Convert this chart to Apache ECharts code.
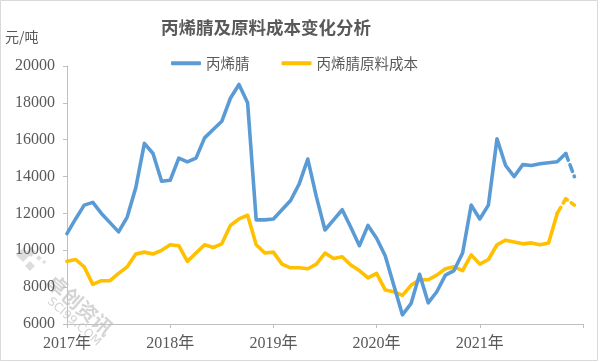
<!DOCTYPE html>
<html>
<head>
<meta charset="utf-8">
<script src="https://cdn.jsdelivr.net/npm/echarts@6/dist/echarts.min.js"></script>
<style>html,body{margin:0;padding:0;background:#fff;}#c{width:601px;height:362px;}</style>
</head>
<body>
<div id="c"></div>
<script>
// monthly categories Jan 2017 .. Jan 2022 (last is the closing tick)
var years = [2017, 2018, 2019, 2020, 2021];
var months = [];
years.forEach(function (y) { for (var m = 1; m <= 12; m++) months.push(y + '-' + (m < 10 ? '0' + m : m)); });
months.push('2022-01');

var acrylonitrile = [
  10900, 11700, 12450, 12600, 12000, 11500, 11000, 11800, 13400, 15800, 15250, 13750,
  13800, 15000, 14800, 15000, 16100, 16550, 17000, 18250, 19000, 18000, 11650, 11650,
  11700, 12200, 12700, 13600, 14950, 12900, 11100, 11650, 12200, 11250, 10250, 11350,
  10650, 9700, 8100, 6500, 7100, 8700, 7150, 7750, 8650, 8900, 9850, 12450,
  11700, 12450, 16050, 14600, 14000, 14650, 14600, 14700, 14750, 14800, 15250, 14000
];
var rawCost = [
  9400, 9500, 9100, 8150, 8350, 8350, 8750, 9100, 9800, 9900, 9800, 10000,
  10300, 10250, 9400, 9850, 10300, 10150, 10350, 11350, 11700, 11900, 10300, 9850,
  9900, 9250, 9050, 9050, 9000, 9250, 9850, 9550, 9650, 9200, 8900, 8500,
  8750, 7850, 7750, 7550, 8100, 8400, 8400, 8650, 9000, 9100, 8900, 9750,
  9250, 9500, 10300, 10550, 10450, 10350, 10400, 10300, 10400, 12000, 12800, 12450
];
var yTicks = { min: 6000, max: 20000, interval: 2000 };
var names = ['丙烯腈', '丙烯腈原料成本'];
var blueSolidEnd = 58;   // last index of the solid blue part
var yellowSolidEnd = 57; // last index of the solid yellow part

function part(arr, from, to) {
  return arr.map(function (v, i) { return (i >= from && i <= to) ? v : null; });
}

var blue = '#5B9BD5', yellow = '#FFC000', txt = '#595959', axisC = '#BFBFBF';
var serif = '"Liberation Serif", "Noto Sans CJK SC", serif';
var cjk = '"Noto Sans CJK SC", sans-serif';

var chart = echarts.init(document.getElementById('c'));
var lineBase = { type: 'line', symbol: 'none', smooth: false, connectNulls: false };
function ls(color, dashed) {
  return { color: color, width: 3.6, cap: 'round', join: 'round', type: dashed ? [7, 5] : 'solid' };
}

chart.setOption({
  backgroundColor: '#fff',
  animation: false,
  title: {
    text: '丙烯腈及原料成本变化分析',
    left: 156, top: 14,
    textStyle: { fontFamily: cjk, fontSize: 17.5, fontWeight: 'bold', color: txt }
  },
  legend: {
    data: names,
    left: 166, top: 51,
    icon: 'roundRect', itemWidth: 30, itemHeight: 4, itemGap: 32,
    textStyle: { fontFamily: cjk, fontSize: 14.5, color: txt }
  },
  grid: { left: 67, right: 18, top: 66, bottom: 38, containLabel: false },
  xAxis: {
    type: 'category',
    data: months,
    boundaryGap: false,
    axisLine: { lineStyle: { color: axisC, width: 1 } },
    axisTick: { interval: 11, length: 4, lineStyle: { color: axisC } },
    axisLabel: {
      interval: 11, margin: 12, fontFamily: serif, fontSize: 16, color: txt,
      formatter: function (v) {
        var p = v.split('-');
        if (p[1] === '01' && p[0] !== '2022') return p[0] + '年';
        return '';
      }
    },
    splitLine: { show: false }
  },
  yAxis: {
    type: 'value',
    min: yTicks.min, max: yTicks.max, interval: yTicks.interval,
    axisLine: { show: true, lineStyle: { color: axisC, width: 1 } },
    axisTick: { show: true, length: 4, lineStyle: { color: axisC } },
    axisLabel: { margin: 12, fontFamily: serif, fontSize: 16, color: txt, formatter: function (v) { return String(v); } },
    splitLine: { show: false }
  },
  series: [
    Object.assign({}, lineBase, { name: names[0], data: part(acrylonitrile, 0, blueSolidEnd), lineStyle: ls(blue, false), itemStyle: { color: blue }, z: 3 }),
    Object.assign({}, lineBase, { name: names[1], data: part(rawCost, 0, yellowSolidEnd), lineStyle: ls(yellow, false), itemStyle: { color: yellow }, z: 2 }),
    Object.assign({}, lineBase, { name: names[0] + '_d', data: part(acrylonitrile, blueSolidEnd, acrylonitrile.length - 1), lineStyle: ls(blue, true), itemStyle: { color: blue }, z: 3 }),
    Object.assign({}, lineBase, { name: names[1] + '_d', data: part(rawCost, yellowSolidEnd, rawCost.length - 1), lineStyle: ls(yellow, true), itemStyle: { color: yellow }, z: 2 })
  ],
  graphic: [
    { type: 'text', left: 5, top: 30, style: { text: '元/吨', font: '14px ' + cjk, fill: txt } },
    { type: 'rect', shape: { x: 0.5, y: 0.5, width: 597, height: 360 }, style: { fill: null, stroke: '#D9D9D9', lineWidth: 1 }, silent: true, z: -1 },
    // watermark
    { type: 'group', x: 0, y: 0, silent: true, z: 10, children: [
      { type: 'rect', x: 16, y: 255, rotation: Math.PI / 4, shape: { x: 0, y: 0, width: 10, height: 10 }, style: { fill: 'rgba(180,180,180,0.45)' } },
      { type: 'rect', x: 26, y: 252, rotation: Math.PI / 4, shape: { x: 0, y: 0, width: 7, height: 7 }, style: { fill: 'rgba(180,180,180,0.45)' } },
      { type: 'rect', x: 25, y: 266, rotation: Math.PI / 4, shape: { x: 0, y: 0, width: 7, height: 7 }, style: { fill: 'rgba(180,180,180,0.45)' } },
      { type: 'rect', x: 36, y: 258, rotation: Math.PI / 4, shape: { x: 0, y: 0, width: 4, height: 4 }, style: { fill: 'rgba(180,180,180,0.45)' } },
      { type: 'rect', x: 42, y: 262, rotation: Math.PI / 4, shape: { x: 0, y: 0, width: 3, height: 3 }, style: { fill: 'rgba(180,180,180,0.45)' } },
      { type: 'text', x: 80, y: 305, rotation: -0.72, style: { text: '卓创资讯', font: 'bold 20px ' + cjk, fill: 'rgba(170,170,170,0.5)', align: 'center', verticalAlign: 'middle' } },
      { type: 'text', x: 74, y: 322, rotation: -0.72, style: { text: 'SCI99.COM', font: '12px "DejaVu Sans", sans-serif', fill: 'rgba(170,170,170,0.5)', align: 'center', verticalAlign: 'middle' } }
    ] }
  ]
});
</script>
</body>
</html>
